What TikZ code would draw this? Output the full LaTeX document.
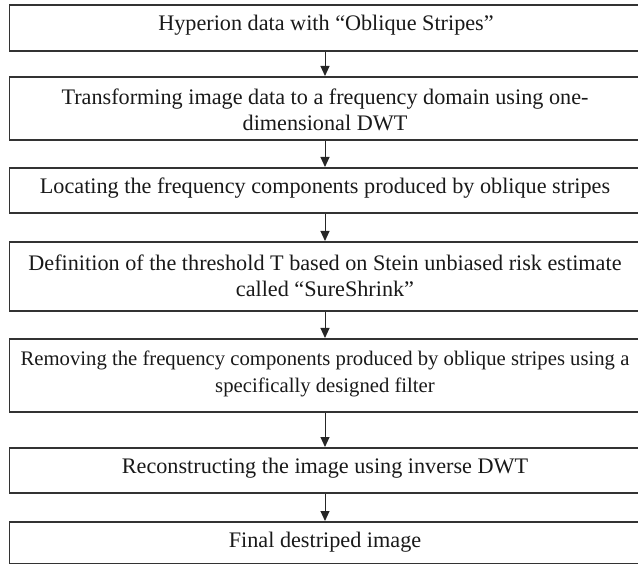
\documentclass[tikz,border=0pt]{standalone}
\usepackage{fontspec}
\setmainfont{Liberation Serif}
\usetikzlibrary{arrows.meta}
\begin{document}
\begin{tikzpicture}[x=1pt,y=-1pt,
  box/.style={draw=black!80,line width=1.6pt,minimum width=632pt,inner sep=0pt,anchor=north west},
  txt/.style={font=\fontsize{22.2}{25.5}\selectfont,align=center,inner sep=0pt,text=black!90},
  small/.style={font=\fontsize{20.7}{27}\selectfont},
  arr/.style={draw=black!85,line width=1pt,-{Triangle[length=10pt,width=9pt]}}]
\useasboundingbox (0,0) rectangle (638,564);
\node[box,minimum height=46pt] (b1) at (8.5,4) {};
\node[box,minimum height=63pt] (b2) at (8.5,76) {};
\node[box,minimum height=45pt] (b3) at (8.5,167) {};
\node[box,minimum height=69pt] (b4) at (8.5,241) {};
\node[box,minimum height=73pt] (b5) at (8.5,338) {};
\node[box,minimum height=45pt] (b6) at (8.5,447) {};
\node[box,minimum height=42pt] (b7) at (8.5,521) {};
\coordinate (ax) at (325,0);
\node[txt] (t1) at (326,25) {Hyperion data with “Oblique Stripes”};
\node[txt] (t2) at (325,110) {Transforming image data to a frequency domain using one-\\dimensional DWT};
\node[txt] (t3) at (325,188) {Locating the frequency components produced by oblique stripes};
\node[txt] (t4) at (325,276) {Definition of the threshold T based on Stein unbiased risk estimate\\called “SureShrink”};
\node[txt,small] (t5) at (325,374) {Removing the frequency components produced by oblique stripes using a\\specifically designed filter};
\node[txt] (t6) at (325,468) {Reconstructing the image using inverse DWT};
\node[txt] (t7) at (325,542) {Final destriped image};
\foreach \a/\b in {b1/b2,b2/b3,b3/b4,b4/b5,b5/b6,b6/b7}
  \draw[arr] (\a.south -| ax) -- (\b.north -| ax);
\end{tikzpicture}
\end{document}
